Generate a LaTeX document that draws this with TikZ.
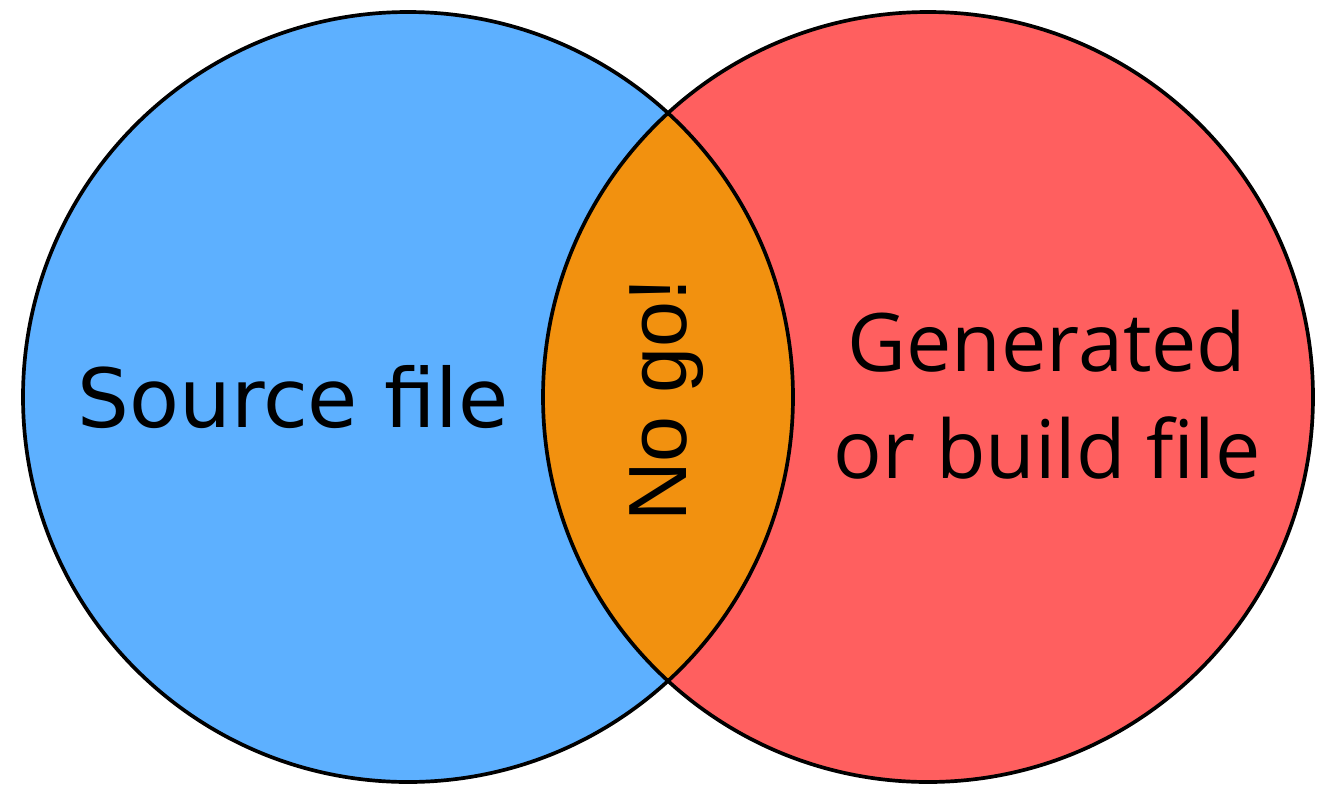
\documentclass[tikz,border=0pt]{standalone}
\usepackage{fontspec}
\usepackage{xcolor}
\usepackage{tikz}
\usetikzlibrary{positioning}
\newfontfamily\srcfont{DejaVu Sans}
\newfontfamily\gofont{Liberation Sans}
\newfontfamily\genfont{Open Sans}
\definecolor{srcblue}{HTML}{5DB0FF}
\definecolor{genred}{HTML}{FF5F5F}
\definecolor{nogoorange}{HTML}{F2910F}

\begin{document}
\begin{tikzpicture}[x=0.02cm, y=-0.02cm,
            label/.style={text=black, align=center, inner sep=0pt},
            ring/.style={draw=black, line width=2.1pt}]
            \useasboundingbox (0,0) rectangle (1325,785);
            \fill[srcblue] (408,397) circle (385);
            \fill[genred] (928,397) circle (385);
            \begin{scope}
                \clip (408,397) circle (385);
                \fill[nogoorange] (928,397) circle (385);
            \end{scope}
            \draw[ring] (408,397) circle (385);
            \draw[ring] (928,397) circle (385);
            \node[label, font={\srcfont\fontsize{46.5}{56}\selectfont}] (src) at (293,397) {Source file};
            \node[label, font={\gofont\fontsize{47}{56}\selectfont}, rotate=90] (nogo) at (667,400) {No go!};
            \node[label, font={\genfont\fontsize{46}{61}\selectfont}] (gen) at (1047,395) {Generated\\or build file};
        \end{tikzpicture}
\end{document}
